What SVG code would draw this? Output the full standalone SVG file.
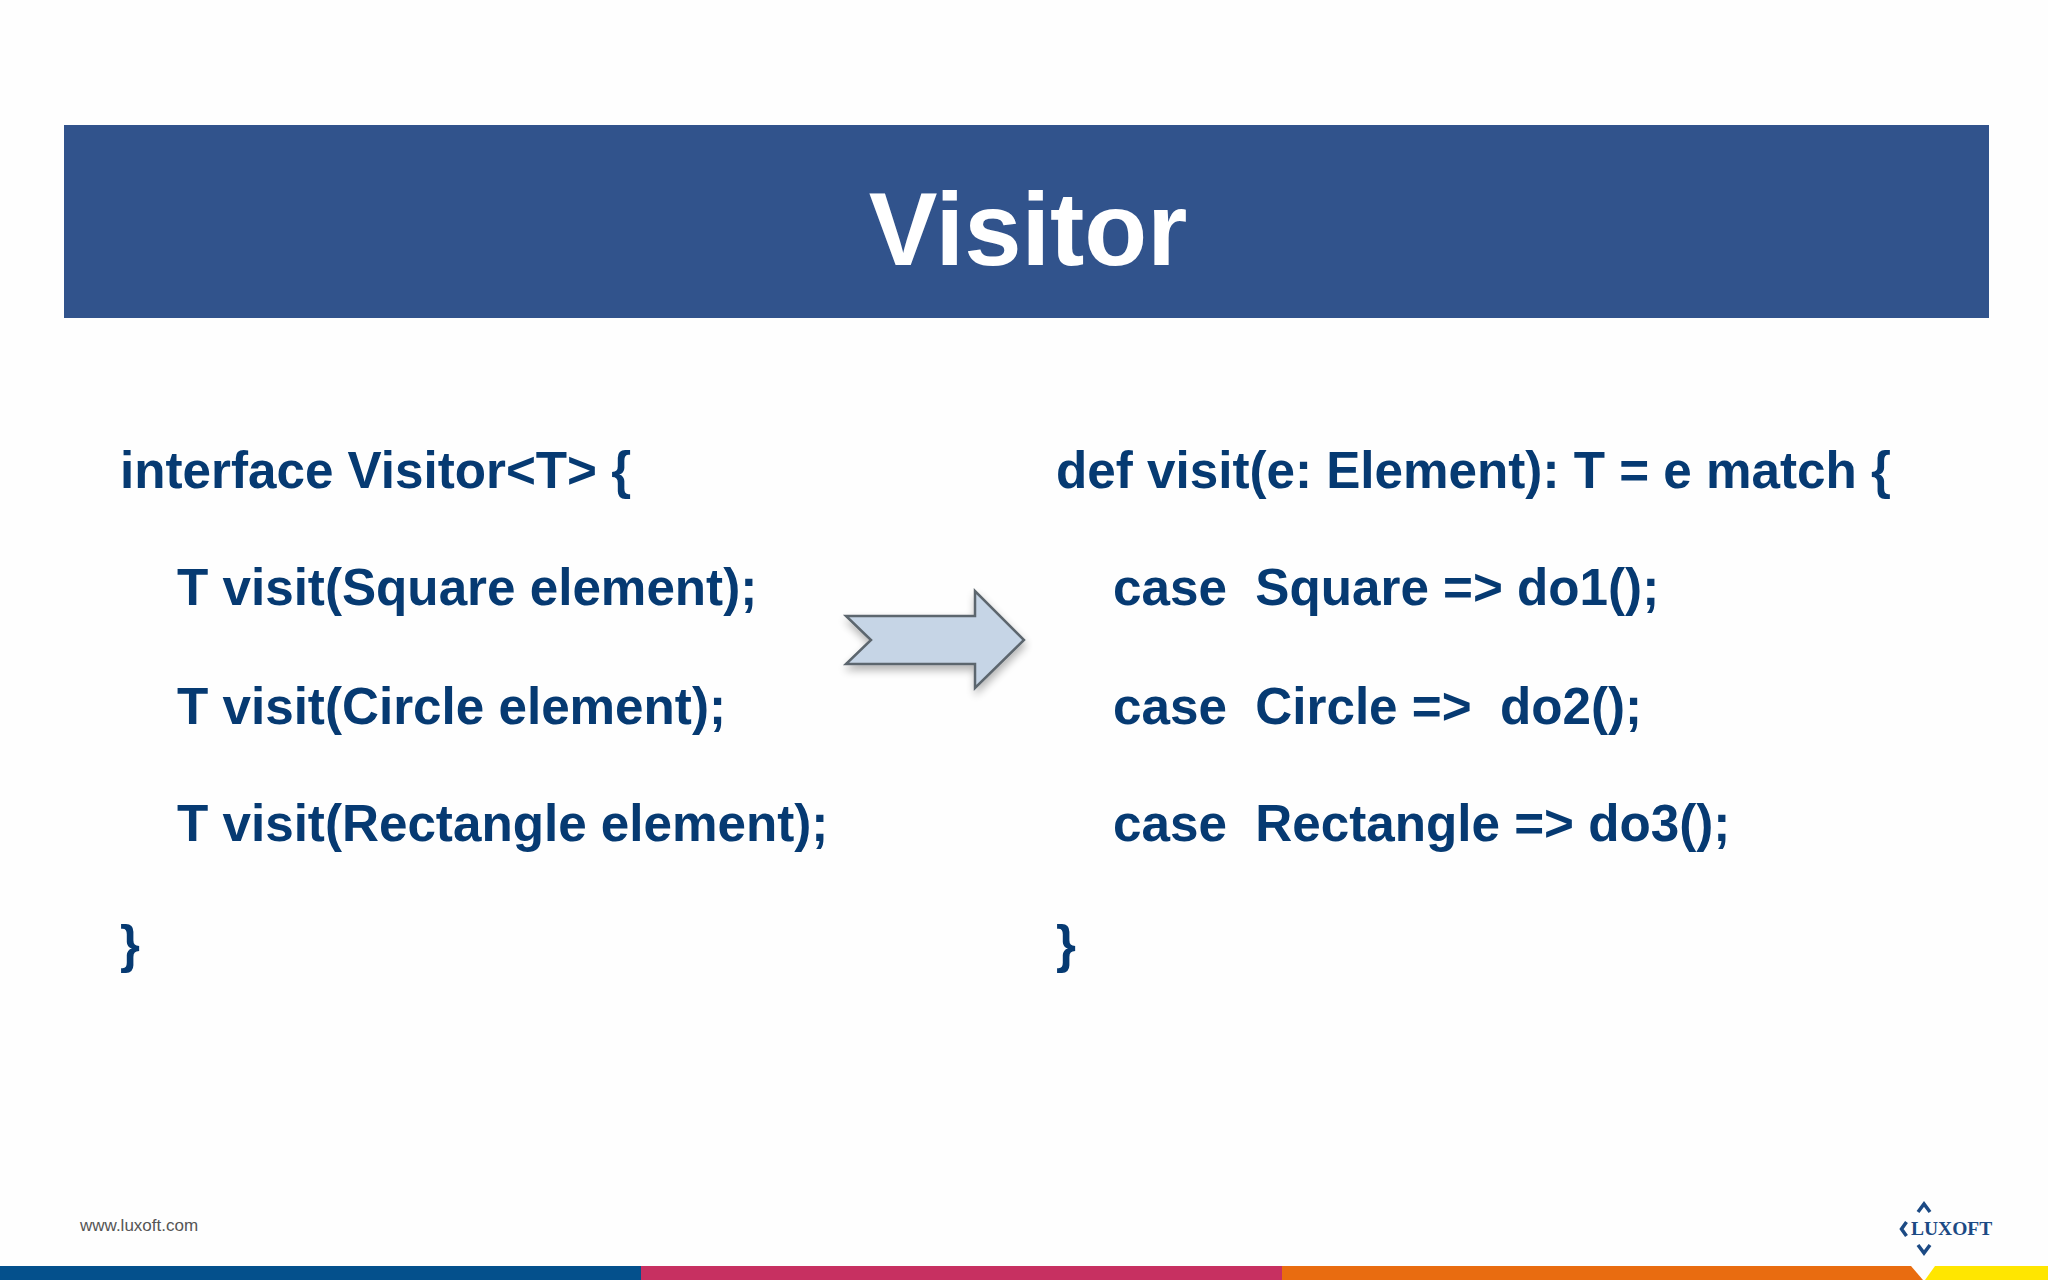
<svg xmlns="http://www.w3.org/2000/svg" width="2048" height="1280" viewBox="0 0 2048 1280">
<style>
.c{font:bold 51.2px "Liberation Sans",Arial,sans-serif;fill:#063a72;white-space:pre}
</style>
<defs><filter id="s" x="-20%" y="-20%" width="140%" height="140%"><feGaussianBlur in="SourceAlpha" stdDeviation="4"/><feOffset dx="1" dy="5"/><feComponentTransfer><feFuncA type="linear" slope="0.3"/></feComponentTransfer><feMerge><feMergeNode/><feMergeNode in="SourceGraphic"/></feMerge></filter></defs>
<rect width="2048" height="1280" fill="#fefefe"/>
<g id="header"><rect x="64" y="125" width="1925" height="193" fill="#31538c"/>
<text x="1028" y="265" text-anchor="middle" font-family="Liberation Sans, Arial, sans-serif" font-weight="bold" font-size="103" fill="#fff">Visitor</text></g>
<g id="left-code">
<text class="c" x="120" y="488">interface Visitor&lt;T&gt; {</text>
<text class="c" x="177" y="605">T visit(Square element);</text>
<text class="c" x="177" y="724">T visit(Circle element);</text>
<text class="c" x="177" y="841">T visit(Rectangle element);</text>
<text class="c" x="120" y="962">}</text>
</g>
<g id="right-code">
<text class="c" x="1056" y="488">def visit(e: Element): T = e match {</text>
<text class="c" x="1113" y="605">case  Square =&gt; do1();</text>
<text class="c" x="1113" y="724">case  Circle =&gt;  do2();</text>
<text class="c" x="1113" y="841">case  Rectangle =&gt; do3();</text>
<text class="c" x="1056" y="962">}</text>
</g>
<g id="arrow"><path d="M846 616H975V591L1024 640L975 688V664H846L871 640Z" fill="#c6d5e6" stroke="#5c666e" stroke-width="2.5" filter="url(#s)"/></g>
<g id="footer">
<text x="80" y="1231" font-family="Liberation Sans, Arial, sans-serif" font-size="17" fill="#555">www.luxoft.com</text>
<rect y="1266" width="641" height="14" fill="#04508c"/>
<rect x="641" y="1266" width="641" height="14" fill="#c73061"/>
<path d="M1282 1266H1911L1923 1280H1282Z" fill="#e96c10"/>
<path d="M1935 1266H2048V1280H1925Z" fill="#ffe600"/>
</g>
<g id="logo" fill="none" stroke="#1c4a84" stroke-width="3.5">
<path d="M1918 1212L1924 1204L1930 1212M1918 1245L1924 1253L1930 1245M1906.500 1222L1901.500 1229L1906.500 1236"/>
<text x="1911" y="1235" font-family="Liberation Serif, serif" font-weight="bold" font-size="19.500" fill="#1c4a84" stroke="none">LUXOFT</text>
</g>
</svg>
